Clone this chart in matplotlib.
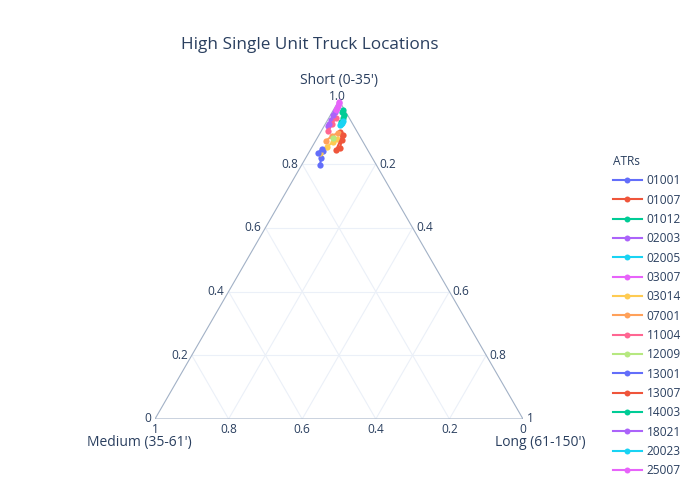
import numpy as np
import matplotlib.pyplot as plt
from matplotlib.lines import Line2D

plt.rcParams['font.family'] = ['Open Sans', 'DejaVu Sans']

# ATR stations and their share of short / medium / long single unit trucks
atrs = ["01001", "01007", "01012", "02003", "02005", "03007", "03014", "07001",
        "11004", "12009", "13001", "13007", "14003", "18021", "20023", "25007"]
short = [[0.797, 0.819, 0.841], [0.901, 0.876, 0.851], [0.964, 0.945, 0.932],
         [0.920, 0.939, 0.964], [0.929, 0.923], [0.970, 0.982, 0.995],
         [0.835, 0.854, 0.869, 0.879], [0.873, 0.888, 0.898], [0.904, 0.926, 0.945],
         [0.882], [0.835, 0.848], [0.891, 0.844],
         [0.970, 0.954], [0.954, 0.926], [0.935, 0.926],
         [0.992, 0.976]]
medium = [[0.153, 0.139, 0.123], [0.047, 0.054, 0.072], [0.010, 0.016, 0.029],
          [0.070, 0.052, 0.029], [0.027, 0.036], [0.023, 0.012, 0.002],
          [0.134, 0.106, 0.082, 0.066], [0.099, 0.075, 0.054], [0.078, 0.056, 0.036],
          [0.075], [0.140, 0.122], [0.044, 0.086],
          [0.004, 0.010], [0.039, 0.064], [0.022, 0.032],
          [0.004, 0.017]]
long_ = [[0.050, 0.042, 0.036], [0.052, 0.070, 0.077], [0.026, 0.039, 0.039],
         [0.010, 0.009, 0.007], [0.044, 0.041], [0.007, 0.006, 0.003],
         [0.031, 0.040, 0.049, 0.055], [0.028, 0.037, 0.048], [0.018, 0.018, 0.019],
         [0.043], [0.025, 0.030], [0.065, 0.070],
         [0.026, 0.036], [0.007, 0.010], [0.043, 0.042],
         [0.004, 0.007]]

ticks = [0, 0.2, 0.4, 0.6, 0.8, 1.0]
short_labels = ["0", "0.2", "0.4", "0.6", "0.8", "1.0"]
medium_labels = ["0", "0.2", "0.4", "0.6", "0.8", "1"]
long_labels = ["0", "0.2", "0.4", "0.6", "0.8", "1"]

colors = ["#636efa", "#EF553B", "#00cc96", "#ab63fa", "#19d3f3", "#e763fa",
          "#FECB52", "#FFA15A", "#FF6692", "#B6E880"]
text_c = "#2a3f5f"
H = np.sqrt(3) / 2


def tern(a, b, c):
    a, b, c = np.asarray(a), np.asarray(b), np.asarray(c)
    s = a + b + c
    a, c = a / s, c / s
    return c + a / 2, a * H


fig = plt.figure(figsize=(7, 5), dpi=100)
ax = fig.add_axes([155 / 700, 81 / 500, 368 / 700, 318.7 / 500])
ax.set_xlim(0, 1)
ax.set_ylim(0, H)
ax.axis('off')

# grid
for t in ticks[1:-1]:
    ax.plot(*tern([t, t], [1 - t, 0], [0, 1 - t]), color="#ebf0f8", lw=0.8, zorder=1)
    ax.plot(*tern([1 - t, 0], [t, t], [0, 1 - t]), color="#ebf0f8", lw=0.8, zorder=1)
    ax.plot(*tern([1 - t, 0], [0, 1 - t], [t, t]), color="#ebf0f8", lw=0.8, zorder=1)
ax.plot(*tern([1, 0, 0, 1], [0, 1, 0, 0], [0, 0, 1, 0]), color="#a2b1c6", lw=0.8, zorder=2)

# tick labels
for t, lab in zip(ticks, short_labels):
    x, y = tern(t, 1 - t, 0)
    if t == 1.0:
        ax.annotate(lab, (x, y), xytext=(-1, 3), textcoords='offset points',
                    ha='center', va='center', fontsize=8.6, color=text_c)
    else:
        ax.annotate(lab, (x, y), xytext=(-3, 0), textcoords='offset points',
                    ha='right', va='center', fontsize=8.6, color=text_c)
for t, lab in zip(ticks, long_labels):
    if t == 0:
        continue
    x, y = tern(1 - t, 0, t)
    ax.annotate(lab, (x, y), xytext=(2.5, 0), textcoords='offset points',
                ha='left', va='center', fontsize=8.6, color=text_c)
for t, lab in zip(ticks, medium_labels):
    x, y = tern(0, t, 1 - t)
    ax.annotate(lab, (x, y), xytext=(0, -7.5), textcoords='offset points',
                ha='center', va='center', fontsize=8.6, color=text_c)

# axis titles
ax.annotate("Short (0-35')", tern(1, 0, 0), xytext=(0, 14.5), textcoords='offset points',
            ha='center', va='center', fontsize=10, color=text_c)
ax.annotate("Medium (35-61')", tern(0, 1, 0), xytext=(-11.2, -16.8), textcoords='offset points',
            ha='center', va='center', fontsize=10, color=text_c)
ax.annotate("Long (61-150')", tern(0, 0, 1), xytext=(12.2, -16.8), textcoords='offset points',
            ha='center', va='center', fontsize=10, color=text_c)

handles = []
for i, name in enumerate(atrs):
    col = colors[i % len(colors)]
    x, y = tern(short[i], medium[i], long_[i])
    ax.plot(x, y, color=col, lw=1.5, marker='o', ms=4.5, mew=0, zorder=3 + i, clip_on=False)
    handles.append(Line2D([], [], color=col, lw=1.5, marker='o', ms=4.3, mew=0))

fig.text(181 / 700, 1 - 45 / 500, "High Single Unit Truck Locations",
         fontsize=12.3, color=text_c, ha='left', va='center')

leg = fig.legend(handles, atrs, loc='upper left', bbox_to_anchor=(613 / 700, 1 - 155 / 500),
                 frameon=False, title="ATRs", fontsize=8.6, title_fontsize=8.6,
                 handlelength=2.4, handletextpad=0.4, labelspacing=0.53,
                 borderpad=0, borderaxespad=0, alignment='left')
for txt in leg.get_texts():
    txt.set_color(text_c)
leg.get_title().set_color(text_c)

fig.savefig("out.png", dpi=100)
